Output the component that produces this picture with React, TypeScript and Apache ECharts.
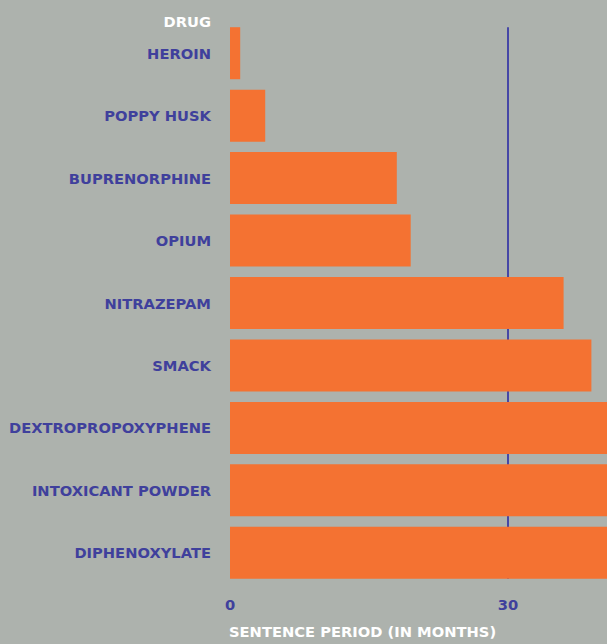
import React, { useEffect, useRef } from "react";
import * as echarts from "echarts";

const drugs = [
  "HEROIN",
  "POPPY HUSK",
  "BUPRENORPHINE",
  "OPIUM",
  "NITRAZEPAM",
  "SMACK",
  "DEXTROPROPOXYPHENE",
  "INTOXICANT POWDER",
  "DIPHENOXYLATE",
];
const months = [1.1, 3.8, 18, 19.5, 36, 39, 48, 60, 72];
const referenceMonths = 30;
const xTicks = [0, 30];

const BG = "#adb2ad";
const ORANGE = "#f47232";
const PURPLE = "#3f409c";
const LINE = "#4647a6";
const FONT = "'DejaVu Sans', sans-serif";
const FS = 14.7;

export default function App() {
  const ref = useRef<HTMLDivElement>(null);
  useEffect(() => {
    document.body.style.margin = "0";
    document.body.style.background = BG;
    const chart = echarts.init(ref.current!, null, { renderer: "svg" });
    const gapRatio = 0.167;
    chart.setOption({
      animation: false,
      backgroundColor: BG,
      grid: {
        left: 230,
        top: 22,
        width: 834,
        height: 562,
        containLabel: false,
        outerBoundsMode: "none",
      },
      xAxis: {
        type: "value",
        min: 0,
        max: 90,
        interval: 30,
        axisLine: { show: false },
        axisTick: { show: false },
        splitLine: { show: false },
        axisLabel: {
          color: PURPLE,
          fontFamily: FONT,
          fontWeight: "bold",
          fontSize: FS,
          margin: 13,
          customValues: xTicks,
        },
      },
      yAxis: [
        {
          type: "category",
          data: drugs,
          inverse: true,
          axisLine: { show: false },
          axisTick: { show: false },
          axisLabel: {
            color: PURPLE,
            fontFamily: FONT,
            fontWeight: "bold",
            fontSize: FS,
            margin: 19,
            padding: [0, 0, 4, 0],
          },
        },
        {
          type: "value",
          min: 0,
          max: drugs.length,
          inverse: true,
          show: false,
        },
      ],
      graphic: [
        {
          type: "text",
          right: 607 - 211,
          top: 14,
          style: {
            text: "DRUG",
            fill: "#ffffff",
            font: `bold ${FS}px ${FONT}`,
          },
        },
        {
          type: "text",
          left: 229,
          top: 624,
          style: {
            text: "SENTENCE PERIOD (IN MONTHS)",
            fill: "#ffffff",
            font: `bold ${FS}px ${FONT}`,
          },
        },
      ],
      series: [
        {
          type: "line",
          yAxisIndex: 1,
          z: 1,
          symbol: "none",
          silent: true,
          lineStyle: { color: LINE, width: 2 },
          data: [
            [referenceMonths, gapRatio / 2],
            [referenceMonths, drugs.length - gapRatio / 2],
          ],
        },
        {
          type: "bar",
          z: 2,
          data: months,
          barCategoryGap: "16.7%",
          itemStyle: { color: ORANGE },
        },
      ],
    });
    return () => chart.dispose();
  }, []);
  return <div ref={ref} style={{ width: 607, height: 644 }} />;
}
